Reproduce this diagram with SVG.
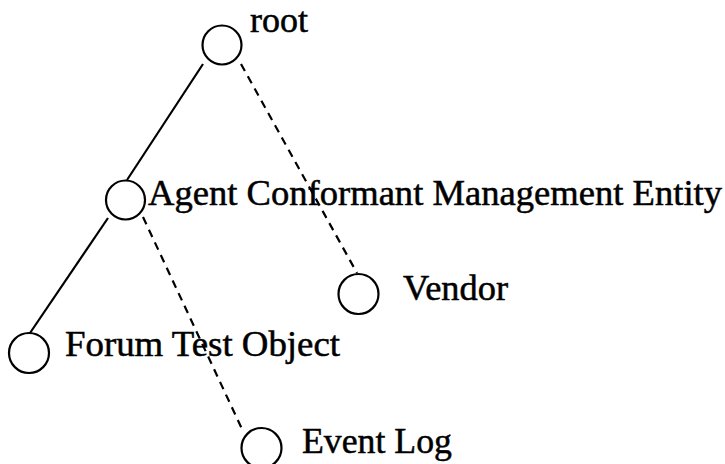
<svg xmlns="http://www.w3.org/2000/svg" width="725" height="464" viewBox="0 0 725 464">
<style>
.node circle{fill:none;stroke:#000;stroke-width:2.2}
.node text{font-family:"Liberation Serif","Times New Roman",serif;font-size:35px;fill:#000;stroke:#000;stroke-width:0.5}
.edge{stroke:#000;stroke-width:2.2;fill:none}
.dash{stroke-dasharray:8 6}
</style>
<rect width="725" height="464" fill="#fff"/>
<g id="connectors">
<line class="edge" x1="203" y1="64" x2="127" y2="180"/>
<line class="edge dash" x1="241" y1="64" x2="357" y2="273"/>
<line class="edge" x1="108" y1="218" x2="30" y2="333"/>
<line class="edge dash" x1="143" y1="217" x2="242" y2="429"/>
</g>
<g id="root" class="node">
<circle cx="222" cy="45" r="19.5"/>
<text x="250" y="32" textLength="58" lengthAdjust="spacingAndGlyphs">root</text>
</g>
<g id="agent" class="node">
<circle cx="125.5" cy="200" r="19.5"/>
<text x="148" y="205" textLength="574" lengthAdjust="spacingAndGlyphs">Agent Conformant Management Entity</text>
</g>
<g id="vendor" class="node">
<circle cx="358.5" cy="294" r="20"/>
<text x="403" y="300" textLength="105" lengthAdjust="spacingAndGlyphs">Vendor</text>
</g>
<g id="forum" class="node">
<circle cx="29" cy="353" r="20"/>
<text x="65" y="356" textLength="275" lengthAdjust="spacingAndGlyphs">Forum Test Object</text>
</g>
<g id="eventlog" class="node">
<circle cx="261.5" cy="448" r="20"/>
<text x="302" y="453" textLength="150" lengthAdjust="spacingAndGlyphs">Event Log</text>
</g>
</svg>
